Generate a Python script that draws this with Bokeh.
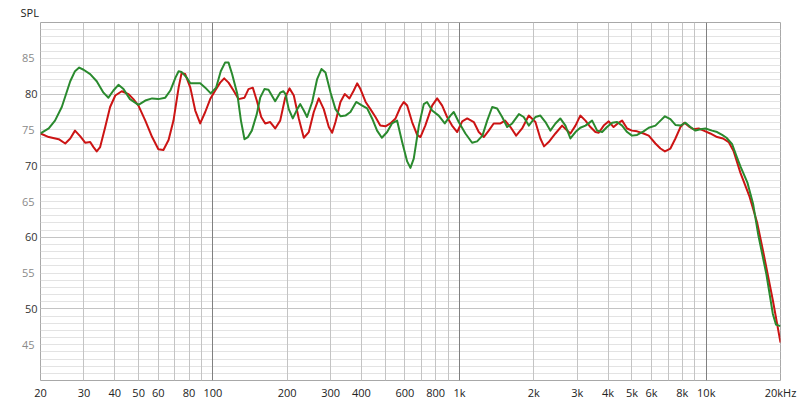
from bokeh.plotting import figure
from bokeh.models import FixedTicker, Grid, LinearAxis
from bokeh.embed import file_html
from bokeh.resources import INLINE

# green trace (Hz / dB SPL)
g_freq = [20, 21.6, 22.9, 24.4, 26.4, 27.6, 28.7, 29.9, 31.8, 33.8,
          36.0, 37.7, 39.5, 41.4, 43.4, 46.1, 49.9, 53.2, 56.7, 60.1,
          64.1, 67.2, 70.5, 72.6, 74.6, 78.3, 81, 84.8, 88.8, 93.1,
          98, 103, 107.6, 112, 115.7, 119.6, 125.6, 129.9, 134.3, 138.7,
          143.8, 150.6, 155.5, 161.8, 168, 178.8, 187.4, 193.2, 196.9, 203,
          210.8, 219.7, 226, 233.6, 240.8, 252.6, 264.6, 275.4, 286, 300,
          314, 328.9, 344.7, 361, 381, 403, 422, 442, 463, 484,
          508.6, 532, 558, 585, 613, 632, 652, 684, 716, 738,
          774, 823, 871, 918, 947, 992, 1056, 1124, 1178, 1238,
          1294, 1356, 1420, 1488, 1559, 1634, 1740, 1820, 1908, 2030,
          2126, 2229, 2333, 2447, 2560, 2686, 2814, 2950, 3086, 3238,
          3446, 3612, 3784, 3960, 4154, 4352, 4560, 4778, 5000, 5244,
          5570, 5846, 6222, 6522, 6800, 7156, 7500, 7860, 8234, 8626,
          9038, 9470, 9924, 10560, 11070, 11600, 12080, 12740, 13340, 13760,
          14700, 15500, 16240, 17540, 18620, 19180, 20000]
g_db = [74.5, 75.2, 76.3, 78.2, 81.8, 83.2, 83.7, 83.4, 82.8, 81.8,
        80.2, 79.5, 80.5, 81.3, 80.7, 79.3, 78.5, 79.1, 79.4, 79.3,
        79.5, 80.5, 82.3, 83.2, 83.1, 82.3, 81.5, 81.5, 81.5, 80.9,
        80.1, 80.9, 83.2, 84.4, 84.4, 82.8, 80.0, 76.3, 73.7, 74.0,
        74.9, 77.2, 79.5, 80.7, 80.6, 79.0, 80.2, 80.4, 80.0, 77.9,
        76.6, 77.9, 78.6, 77.7, 76.8, 78.9, 82.1, 83.5, 83.0, 80.2,
        77.9, 76.9, 77.0, 77.5, 78.9, 78.4, 78.0, 76.6, 74.9, 73.9,
        74.7, 75.9, 76.3, 73.3, 70.6, 69.7, 71.0, 75.6, 78.6, 78.9,
        77.7, 77.0, 75.9, 77.0, 77.5, 76.1, 74.5, 73.2, 73.4, 74.2,
        76.3, 78.2, 78.0, 76.8, 75.4, 75.9, 77.2, 76.8, 75.6, 76.8,
        77.0, 76.1, 74.9, 75.9, 76.6, 75.6, 73.8, 74.7, 75.3, 75.6,
        76.3, 74.9, 74.7, 75.4, 76.0, 76.1, 75.6, 74.7, 74.2, 74.3,
        74.8, 75.3, 75.6, 76.3, 76.9, 76.5, 75.7, 75.6, 76.0, 75.4,
        74.9, 75.1, 75.2, 74.9, 74.7, 74.3, 73.9, 73.0, 71.1, 69.9,
        67.6, 64.6, 60.4, 54.8, 49.3, 47.8, 47.6]

# red trace
r_freq = [20, 21.6, 23.7, 25.2, 26.4, 27.6, 29.0, 30.4, 31.8, 32.8,
          33.8, 34.9, 36.6, 38.3, 40.2, 42.7, 45.5, 47.6, 49.9, 53.2,
          56.7, 60.1, 63.0, 66.1, 69.2, 72.6, 74.6, 77.2, 81, 84.8,
          88.8, 93.1, 97.5, 102.2, 107, 111.1, 115.7, 121.2, 127, 134.3,
          139.4, 145.1, 150.6, 157, 162.9, 170.7, 178.8, 187.4, 196.3, 204.4,
          212.8, 222.9, 233.6, 244.8, 256.4, 268.6, 281.4, 295, 304.4, 314,
          328.9, 342.4, 357.8, 372.4, 384.4, 396.4, 416, 435, 456, 477,
          500.6, 524, 550, 576, 594, 613, 642, 673, 694, 726,
          774, 811, 850, 890, 932, 978, 1025, 1074, 1142, 1196,
          1253, 1313, 1375, 1464, 1530, 1608, 1696, 1793, 1908, 2030,
          2126, 2200, 2298, 2447, 2604, 2730, 2814, 2950, 3086, 3238,
          3392, 3554, 3666, 3840, 4024, 4210, 4376, 4560, 4778, 5000,
          5244, 5570, 5846, 6222, 6522, 6800, 7156, 7500, 7860, 8156,
          8490, 8860, 9322, 9768, 10380, 11070, 11700, 12330, 12920, 13760,
          14940, 16070, 17020, 18620, 20000]
r_db = [74.5, 74.0, 73.7, 73.1, 73.8, 74.9, 74.1, 73.2, 73.3, 72.6,
        72.0, 72.6, 75.4, 78.2, 79.8, 80.4, 80.0, 79.3, 78.4, 76.3,
        74.0, 72.3, 72.2, 73.6, 76.3, 80.9, 82.9, 82.8, 80.9, 77.7,
        75.9, 77.5, 79.3, 80.5, 81.6, 82.2, 81.6, 80.5, 79.3, 79.5,
        80.7, 80.9, 79.1, 76.8, 75.9, 76.1, 75.2, 76.3, 79.5, 80.8,
        79.8, 76.6, 73.9, 74.7, 77.5, 79.4, 77.9, 75.4, 74.6, 76.1,
        78.9, 80.0, 79.4, 80.5, 81.5, 80.7, 78.9, 77.9, 76.8, 75.6,
        75.5, 75.9, 76.6, 78.2, 78.9, 78.4, 76.1, 74.3, 74.0, 75.6,
        78.4, 79.4, 78.4, 76.8, 75.6, 74.7, 76.2, 76.6, 76.1, 74.7,
        74.0, 74.9, 75.9, 75.9, 76.3, 75.4, 74.2, 75.2, 77.0, 76.1,
        73.8, 72.7, 73.3, 74.5, 75.6, 74.9, 74.5, 75.6, 77.0, 76.3,
        75.4, 74.7, 74.6, 75.6, 76.2, 75.4, 75.9, 76.3, 75.2, 74.9,
        74.8, 74.5, 74.2, 73.1, 72.4, 72.0, 72.4, 73.8, 75.4, 76.0,
        75.5, 75.1, 75.2, 74.9, 74.5, 74.0, 73.8, 73.3, 72.0, 69.0,
        65.8, 62.1, 58.0, 51.2, 45.3]

# axis ticks
x_ticks = [20, 30, 40, 50, 60, 80, 100, 200, 300, 400, 600, 800,
           1000, 2000, 3000, 4000, 5000, 6000, 8000, 10000, 20000]
x_labels = ["20", "30", "40", "50", "60", "80", "100", "200", "300", "400", "600", "800",
            "1k", "2k", "3k", "4k", "5k", "6k", "8k", "10k", "20kHz"]
x_grid_minor = [30, 40, 50, 60, 70, 80, 90, 200, 300, 400, 500, 600, 700, 800, 900,
                2000, 3000, 4000, 5000, 6000, 7000, 8000, 9000]
x_grid_decades = [100, 1000, 10000]
y_major = [50, 60, 70, 80]
y_half = [45, 55, 65, 75, 85]

FONT = "Open Sans"

p = figure(width=800, height=404, x_axis_type="log", x_range=(20, 20000), y_range=(40, 90),
           output_backend="svg", toolbar_location=None,
           min_border_left=40, min_border_right=20, min_border_top=18, min_border_bottom=24)
p.outline_line_color = "#a8a8a8"
p.xgrid.visible = False
p.ygrid.visible = False

p.title.text = "SPL"
p.title.align = "left"
p.title.offset = -20
p.title.standoff = 5
p.title.text_font = FONT
p.title.text_font_size = "11px"
p.title.text_font_style = "normal"
p.title.text_color = "#222222"

# horizontal grid: 1 dB fine lines, 10 dB stronger lines
p.add_layout(Grid(dimension=1, ticker=FixedTicker(ticks=list(range(41, 90))),
                  grid_line_color="#e3e3e3", grid_line_width=1))
p.add_layout(Grid(dimension=1, ticker=FixedTicker(ticks=y_major),
                  grid_line_color="#c4c4c4", grid_line_width=1))
# vertical grid
p.add_layout(Grid(dimension=0, ticker=FixedTicker(ticks=x_grid_minor),
                  grid_line_color="#c4c4c4", grid_line_width=1))
p.add_layout(Grid(dimension=0, ticker=FixedTicker(ticks=x_grid_decades),
                  grid_line_color="#808080", grid_line_width=1))

p.line(r_freq, r_db, line_color="#cc1414", line_width=2, line_join="round")
p.line(g_freq, g_db, line_color="#2a8a2e", line_width=2, line_join="round")

# lighter 5 dB labels: second left axis pulled back over the first one
half_axis = LinearAxis(ticker=FixedTicker(ticks=y_half))
p.add_layout(half_axis, "left")

for ax in (p.xaxis[0], p.yaxis[0], half_axis):
    ax.axis_line_color = None
    ax.major_tick_line_color = None
    ax.minor_tick_line_color = None
    ax.major_tick_out = 0
    ax.major_tick_in = 0
    ax.minor_tick_out = 0
    ax.minor_tick_in = 0
    ax.major_label_text_font = FONT
    ax.major_label_text_font_size = "11px"
    ax.major_label_standoff = 3

half_axis.major_label_standoff = -13

p.xaxis[0].ticker = FixedTicker(ticks=x_ticks)
p.xaxis[0].major_label_overrides = {t: s for t, s in zip(x_ticks, x_labels)}
p.xaxis[0].major_label_text_color = "#222222"
p.xaxis[0].major_label_standoff = 4

p.yaxis[0].ticker = FixedTicker(ticks=y_major)
p.yaxis[0].major_label_text_color = "#333333"
half_axis.major_label_text_color = "#8a8a8a"

open("out.html", "w").write(file_html(p, INLINE))
